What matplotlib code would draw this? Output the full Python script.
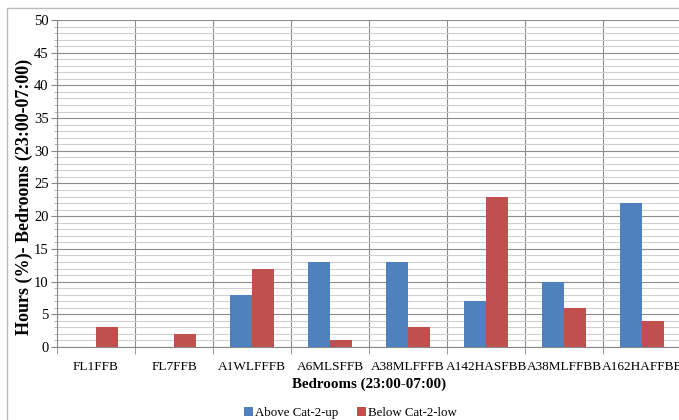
import numpy as np
import matplotlib
matplotlib.use('Agg')
import matplotlib.pyplot as plt
from matplotlib.patches import Rectangle

# data
rooms = ['FL1FFB', 'FL7FFB', 'A1WLFFFB', 'A6MLSFFB', 'A38MLFFFB',
         'A142HASFBB', 'A38MLFFBB', 'A162HAFFBB']
above = [0, 0, 8, 13, 13, 7, 10, 22]
below = [3, 2, 12, 1, 3, 23, 6, 4]

plt.rcParams['font.family'] = ['Liberation Serif', 'DejaVu Serif']

fig = plt.figure(figsize=(6.79, 4.20), dpi=100)
ax = fig.add_axes([0.0839, 0.1738, 0.9194, 0.7786])

x = np.arange(len(rooms))
w = 0.28
ax.bar(x - w / 2, above, w, color='#4F81BD', label='Above Cat-2-up', zorder=3)
ax.bar(x + w / 2, below, w, color='#C0504D', label='Below Cat-2-low', zorder=3)

ax.set_xlim(-0.5, len(rooms) - 0.5)
ax.set_ylim(0, 50)
ax.set_yticks(range(0, 51, 5))
ax.set_yticks(range(0, 51, 1), minor=True)
ax.set_xticks(x)
ax.set_xticklabels(rooms, fontsize=9.5)
ax.set_xticks(np.arange(-0.5, len(rooms)), minor=True)
ax.tick_params(axis='x', which='major', length=0, pad=10)
ax.tick_params(axis='x', which='minor', length=5, color='#888888')
ax.tick_params(axis='y', which='major', length=4, color='#888888', labelsize=10.5, pad=2)
ax.tick_params(axis='y', which='minor', length=2, color='#aaaaaa')

ax.grid(axis='y', which='minor', color='#d0d0d0', lw=0.8, zorder=0)
ax.grid(axis='y', which='major', color='#8c8c8c', lw=0.8, zorder=1)
ax.grid(axis='x', which='minor', color='#8c8c8c', lw=0.8, zorder=1)
ax.grid(axis='x', which='major', visible=False)

for s in ['top', 'right']:
    ax.spines[s].set_visible(False)
ax.spines['left'].set_color('#888888')
ax.spines['bottom'].set_color('#888888')

ax.set_xlabel('Bedrooms (23:00-07:00)', fontsize=10.8, fontweight='bold', labelpad=3)
ax.set_ylabel('Hours (%)- Bedrooms (23:00-07:00)', fontsize=13, fontweight='bold')
ax.yaxis.set_label_coords(-0.039, 0.46)

ax.legend(loc='lower center', bbox_to_anchor=(0.47, -0.255), ncol=2, frameon=False,
          fontsize=9.3, handlelength=0.7, handleheight=0.7, handletextpad=0.2,
          columnspacing=1.4)

fig.patches.append(Rectangle((7 / 679, -0.1), 1.1, 1 - 8 / 420 + 0.1,
                             transform=fig.transFigure, fill=False,
                             edgecolor='#bbbbbb', lw=1))

fig.savefig('out.png', dpi=100)
